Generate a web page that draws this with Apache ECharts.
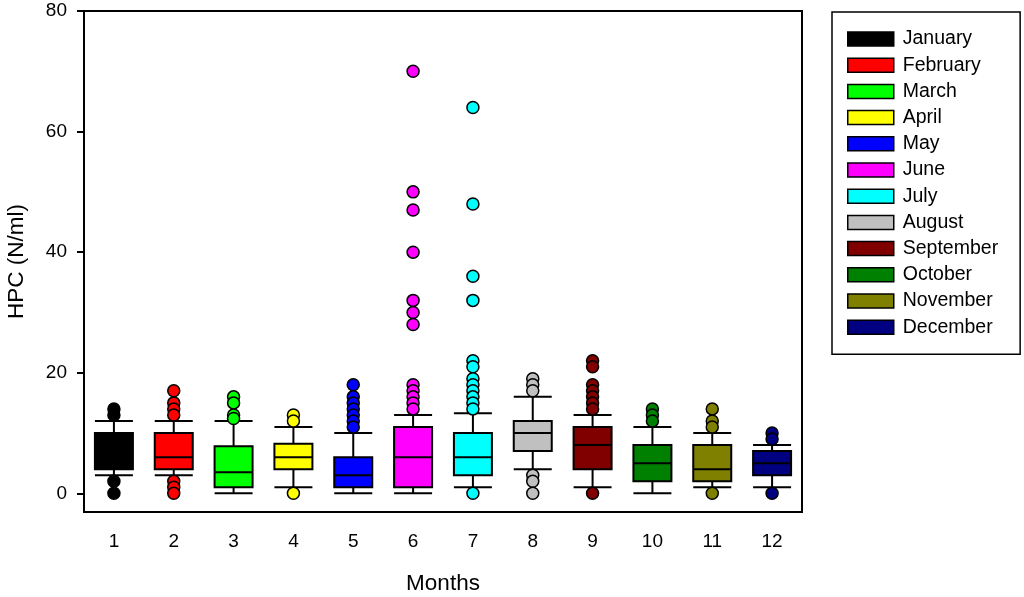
<!DOCTYPE html>
<html>
<head>
<meta charset="utf-8">
<style>
html,body{margin:0;padding:0;background:#fff;}
#chart{width:1024px;height:597px;}
</style>
<script src="https://cdn.jsdelivr.net/npm/echarts@6/dist/echarts.min.js"></script>
</head>
<body>
<div id="chart"></div>
<script>
const categories = ['1','2','3','4','5','6','7','8','9','10','11','12'];
const monthNames = ['January','February','March','April','May','June','July','August','September','October','November','December'];
const monthColors = ['#000000','#ff0000','#00ff00','#ffff00','#0000ff','#ff00ff','#00ffff','#c0c0c0','#800000','#008000','#808000','#000080'];
// [lower whisker, Q1, median, Q3, upper whisker]
const boxStats = [
  [3, 4, 6, 10, 12],
  [3, 4, 6, 10, 12],
  [0, 1, 3.5, 7.8, 12],
  [1, 4, 6, 8.2, 11],
  [0, 1, 3, 6, 10],
  [0, 1, 6, 11, 13],
  [1, 3, 6, 10, 13.3],
  [4, 7, 10, 12, 16],
  [1, 4, 8, 11, 13],
  [0, 2, 5, 8, 11],
  [1, 2, 4, 8, 10],
  [1, 3, 5, 7, 8]
];
const outliers = [
  [14, 13, 2, 0],
  [17, 15, 14, 13, 2, 1, 0],
  [16, 15, 13, 12.4],
  [13, 12, 0],
  [18, 16, 15, 14, 13, 12, 11],
  [70, 50, 47, 40, 32, 30, 28, 18, 17, 16, 15, 14],
  [64, 48, 36, 32, 22, 21, 19, 18, 17, 16, 15, 14, 0],
  [19, 18, 17, 3, 2, 0],
  [22, 21, 18, 17, 16, 15, 14, 0],
  [14, 13, 12],
  [14, 12, 11, 0],
  [10, 9, 0]
];
const yTicks = [0, 20, 40, 60, 80];

const FONT = '"Liberation Sans", Arial, sans-serif';

const series = [{
  type: 'boxplot',
  name: 'box',
  boxWidth: [38, 38],
  itemStyle: { borderColor: '#000', borderWidth: 2 },
  emphasis: { disabled: true },
  z: 2,
  data: boxStats.map((s, i) => ({ value: s, itemStyle: { color: monthColors[i], borderColor: '#000' } }))
}];
monthNames.forEach((m, i) => {
  series.push({
    type: 'scatter',
    name: m,
    symbol: 'circle',
    symbolSize: 12,
    z: 3,
    itemStyle: { color: monthColors[i], borderColor: '#000', borderWidth: 1.5, opacity: 1 },
    emphasis: { disabled: true },
    data: outliers[i].map(v => [i, v])
  });
});

const chart = echarts.init(document.getElementById('chart'), null, { renderer: 'canvas' });
chart.setOption({
  animation: false,
  backgroundColor: '#fff',
  textStyle: { fontFamily: FONT, color: '#000' },
  grid: {
    left: 84, top: 11, right: 222, bottom: 85,
    outerBoundsMode: 'none',
    containLabel: false,
    show: true, borderColor: '#000', borderWidth: 2, backgroundColor: 'transparent'
  },
  legend: {
    data: monthNames,
    orient: 'vertical',
    left: 832, top: 12,
    icon: 'rect',
    itemWidth: 46, itemHeight: 14,
    itemGap: 6.2,
    padding: [17, 22, 17, 15],
    borderColor: '#000', borderWidth: 1.5,
    itemStyle: { borderColor: '#000', borderWidth: 1.5 },
    textStyle: { fontFamily: FONT, fontSize: 19.5, color: '#000', padding: [0, 0, 0, 4] },
    selectedMode: false
  },
  xAxis: {
    type: 'category',
    data: categories,
    boundaryGap: true,
    name: 'Months',
    nameLocation: 'middle',
    nameGap: 60,
    nameTextStyle: { fontFamily: FONT, fontSize: 22.5, color: '#000' },
    axisLine: { onZero: false, lineStyle: { color: '#000', width: 2 } },
    axisTick: { alignWithLabel: true, length: 7, lineStyle: { color: '#000', width: 2 } },
    axisLabel: { fontFamily: FONT, fontSize: 19, color: '#000', margin: 20 },
    splitLine: { show: false }
  },
  yAxis: {
    type: 'value',
    min: -3.1, max: 80,
    name: 'HPC (N/ml)',
    nameLocation: 'middle',
    nameGap: 56,
    nameTextStyle: { fontFamily: FONT, fontSize: 22.5, color: '#000' },
    axisLine: { show: true, onZero: false, lineStyle: { color: '#000', width: 2 } },
    axisTick: { show: true, length: 7, customValues: yTicks, lineStyle: { color: '#000', width: 2 } },
    axisLabel: { fontFamily: FONT, fontSize: 19, color: '#000', margin: 17, customValues: yTicks },
    splitLine: { show: false }
  },
  series: series
});
</script>
</body>
</html>
